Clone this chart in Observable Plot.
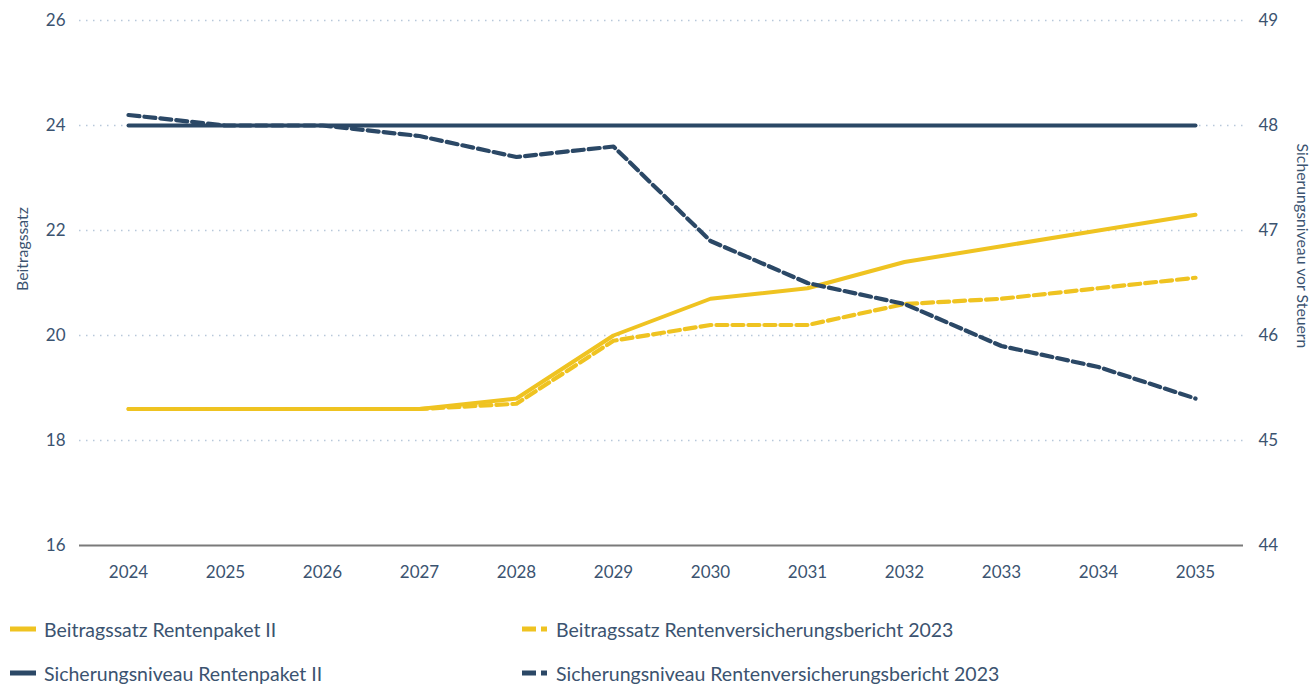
<!DOCTYPE html>
<html>
<head>
<meta charset="utf-8">
<script src="https://cdn.jsdelivr.net/npm/d3@7"></script>
<script src="https://cdn.jsdelivr.net/npm/@observablehq/plot@0.6"></script>
<style>
  body { margin: 0; background: #fff; font-family: Lato, "Noto Sans", sans-serif; color: #3b5370; }
  #legend { display: grid; grid-template-columns: 512px 700px; row-gap: 20px; padding: 22px 0 0 10px; font-size: 19.5px; }
  .item { display: flex; align-items: center; height: 24px; }
</style>
</head>
<body>
<div id="chart"></div>
<div id="legend"></div>
<script>
const years = [2024, 2025, 2026, 2027, 2028, 2029, 2030, 2031, 2032, 2033, 2034, 2035];
// Beitragssatz (left axis, %)
const beitragPaket = [18.6, 18.6, 18.6, 18.6, 18.8, 20.0, 20.7, 20.9, 21.4, 21.7, 22.0, 22.3];
const beitragBericht = [18.6, 18.6, 18.6, 18.6, 18.7, 19.9, 20.2, 20.2, 20.6, 20.7, 20.9, 21.1];
// Sicherungsniveau (right axis, %)
const niveauPaket = [48.0, 48.0, 48.0, 48.0, 48.0, 48.0, 48.0, 48.0, 48.0, 48.0, 48.0, 48.0];
const niveauBericht = [48.1, 48.0, 48.0, 47.9, 47.7, 47.8, 46.9, 46.5, 46.3, 45.9, 45.7, 45.4];
const leftTicks = [16, 18, 20, 22, 24, 26];
const rightTicks = [44, 45, 46, 47, 48, 49];
const leftLabel = "Beitragssatz";
const rightLabel = "Sicherungsniveau vor Steuern";
const seriesNames = [
  "Beitragssatz Rentenpaket II",
  "Beitragssatz Rentenversicherungsbericht 2023",
  "Sicherungsniveau Rentenpaket II",
  "Sicherungsniveau Rentenversicherungsbericht 2023"
];

const YELLOW = "#efc321";
const NAVY = "#2b4866";
const TEXT = "#3b5370";

// map right-axis values onto the left-axis scale (44..49 -> 16..26)
const toLeft = v => 16 + (v - 44) * 2;
const toRight = v => (v - 16) / 2 + 44;

const rows = (vals, conv) => years.map((y, i) => ({year: y, v: conv ? conv(vals[i]) : vals[i]}));

const chart = Plot.plot({
  width: 1314,
  height: 595,
  marginTop: 20,
  marginBottom: 50,
  marginLeft: 79,
  marginRight: 71,
  style: {fontFamily: "Lato, 'Noto Sans', sans-serif", fontSize: "17px", color: TEXT, background: "#fff"},
  x: {type: "point", domain: years, padding: 0.5},
  y: {domain: [16, 26]},
  marks: [
    Plot.gridY(leftTicks.slice(1), {stroke: "#b7c8da", strokeOpacity: 1, strokeWidth: 1.6, strokeDasharray: "1.5,5.5"}),
    Plot.ruleY([16], {stroke: "#7a7a7a", strokeWidth: 2}),
    Plot.axisX({tickSize: 0, tickPadding: 20, label: null, tickFormat: d => String(d), fontSize: 17}),
    Plot.axisY({anchor: "left", ticks: leftTicks, tickSize: 0, tickPadding: 14, label: null, fontSize: 17}),
    Plot.axisY({anchor: "right", ticks: rightTicks.map(toLeft), tickSize: 0, tickPadding: 15, label: null, tickFormat: d => String(toRight(d)), fontSize: 17}),
    Plot.text([leftLabel], {text: d => d, frameAnchor: "left", textAnchor: "middle", dx: -57, dy: -34, rotate: -90, fontSize: 15.8, fill: TEXT}),
    Plot.text([rightLabel], {text: d => d, frameAnchor: "right", textAnchor: "middle", dx: 59, dy: -37, rotate: 90, fontSize: 15.8, fill: TEXT}),
    Plot.line(rows(beitragPaket), {x: "year", y: "v", stroke: YELLOW, strokeWidth: 4}),
    Plot.line(rows(beitragBericht), {x: "year", y: "v", stroke: YELLOW, strokeWidth: 4.2, strokeDasharray: "11,5"}),
    Plot.line(rows(niveauPaket, toLeft), {x: "year", y: "v", stroke: NAVY, strokeWidth: 4}),
    Plot.line(rows(niveauBericht, toLeft), {x: "year", y: "v", stroke: NAVY, strokeWidth: 4.2, strokeDasharray: "11,5"})
  ]
});
document.getElementById("chart").appendChild(chart);

// legend
const legendColors = [YELLOW, YELLOW, NAVY, NAVY];
const legendDashed = [false, true, false, true];
const legend = d3.select("#legend");
seriesNames.forEach((name, i) => {
  const item = legend.append("div").attr("class", "item");
  const sw = item.append("svg").attr("width", 26).attr("height", 6).style("margin-right", "8px");
  if (legendDashed[i]) {
    sw.append("rect").attr("x", 0).attr("y", 0.5).attr("width", 14).attr("height", 5).attr("fill", legendColors[i]);
    sw.append("rect").attr("x", 19).attr("y", 0.5).attr("width", 6).attr("height", 5).attr("fill", legendColors[i]);
  } else {
    sw.append("rect").attr("x", 0).attr("y", 0.5).attr("width", 26).attr("height", 5).attr("fill", legendColors[i]);
  }
  item.append("span").text(name);
});
</script>
</body>
</html>
